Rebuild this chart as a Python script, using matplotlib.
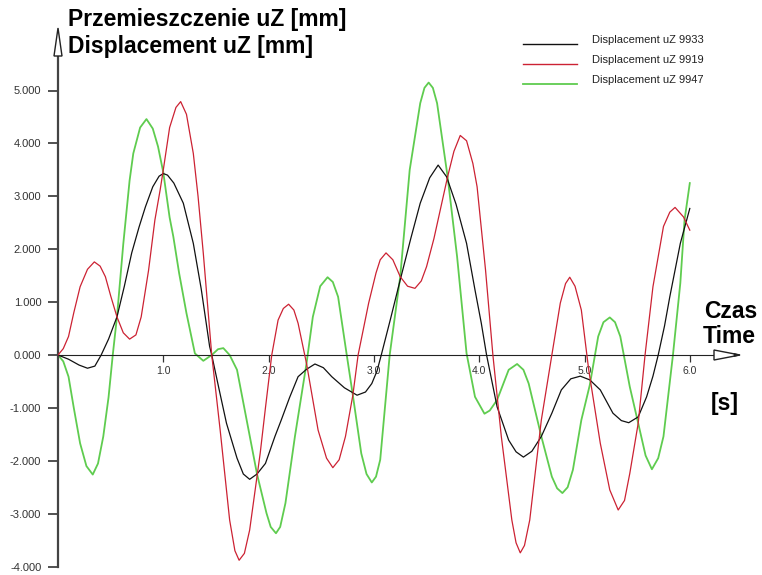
import matplotlib.pyplot as plt
from matplotlib.patches import Polygon
import numpy as np

# values (time [s], displacement [mm])
t_9933 = [0.0, 0.10, 0.20, 0.28, 0.35, 0.41, 0.48, 0.56, 0.63, 0.70, 0.77, 0.83, 0.90, 0.96, 1.00, 1.04,
          1.10, 1.19, 1.285, 1.36, 1.44, 1.46, 1.53, 1.60, 1.70, 1.76, 1.82, 1.89, 1.97, 2.06, 2.12, 2.20,
          2.28, 2.36, 2.44, 2.52, 2.60, 2.72, 2.84, 2.92, 2.98, 3.03, 3.07, 3.16, 3.25, 3.35, 3.44, 3.53,
          3.61, 3.69, 3.78, 3.88, 3.96, 4.02, 4.07, 4.17, 4.28, 4.35, 4.42, 4.50, 4.59, 4.69, 4.78, 4.87,
          4.96, 5.05, 5.15, 5.27, 5.35, 5.42, 5.51, 5.59, 5.65, 5.70, 5.76, 5.81, 5.91, 6.00]
v_9933 = [0.0, -0.08, -0.19, -0.25, -0.21, 0.0, 0.30, 0.72, 1.30, 1.93, 2.42, 2.80, 3.18, 3.38, 3.43, 3.40,
          3.25, 2.87, 2.11, 1.25, 0.16, 0.0, -0.65, -1.29, -1.95, -2.25, -2.35, -2.25, -2.05, -1.54, -1.23, -0.80,
          -0.41, -0.27, -0.17, -0.24, -0.41, -0.62, -0.76, -0.70, -0.54, -0.30, 0.0, 0.70, 1.42, 2.20, 2.87, 3.35,
          3.59, 3.37, 2.85, 2.11, 1.23, 0.60, 0.0, -0.98, -1.61, -1.83, -1.93, -1.82, -1.54, -1.10, -0.66, -0.45,
          -0.40, -0.47, -0.66, -1.10, -1.24, -1.28, -1.17, -0.79, -0.40, 0.0, 0.55, 1.10, 2.11, 2.77]

t_9919 = [0.0, 0.05, 0.10, 0.15, 0.21, 0.28, 0.345, 0.40, 0.45, 0.50, 0.56, 0.62, 0.68, 0.74, 0.79, 0.86,
          0.92, 0.97, 1.00, 1.06, 1.12, 1.165, 1.22, 1.285, 1.33, 1.38, 1.46, 1.54, 1.63, 1.68, 1.72, 1.77,
          1.82, 1.92, 1.97, 2.03, 2.09, 2.14, 2.19, 2.24, 2.28, 2.36, 2.47, 2.55, 2.61, 2.67, 2.73, 2.80,
          2.85, 2.95, 3.02, 3.06, 3.115, 3.18, 3.25, 3.32, 3.39, 3.45, 3.50, 3.57, 3.63, 3.70, 3.76, 3.82,
          3.88, 3.94, 3.98, 4.06, 4.13, 4.21, 4.31, 4.35, 4.39, 4.43, 4.48, 4.59, 4.69, 4.77, 4.82, 4.86,
          4.91, 4.97, 5.04, 5.15, 5.24, 5.32, 5.38, 5.43, 5.51, 5.575, 5.65, 5.75, 5.81, 5.86, 5.94, 6.00]
v_9919 = [0.0, 0.12, 0.35, 0.80, 1.29, 1.62, 1.76, 1.68, 1.48, 1.12, 0.72, 0.42, 0.30, 0.38, 0.72, 1.60,
          2.55, 3.12, 3.50, 4.30, 4.68, 4.79, 4.55, 3.81, 3.00, 1.92, 0.0, -1.42, -3.12, -3.70, -3.88, -3.75,
          -3.31, -1.86, -1.00, 0.0, 0.66, 0.88, 0.96, 0.85, 0.60, -0.16, -1.42, -1.95, -2.13, -1.98, -1.54, -0.76,
          0.0, 0.98, 1.55, 1.80, 1.93, 1.80, 1.48, 1.30, 1.26, 1.40, 1.67, 2.20, 2.74, 3.37, 3.85, 4.15,
          4.05, 3.62, 3.18, 1.61, 0.0, -1.54, -3.12, -3.55, -3.74, -3.60, -3.12, -1.23, 0.0, 0.98, 1.35, 1.47,
          1.30, 0.85, -0.28, -1.67, -2.55, -2.93, -2.75, -2.24, -1.29, 0.0, 1.29, 2.43, 2.70, 2.79, 2.61, 2.36]

t_9947 = [0.0, 0.05, 0.10, 0.15, 0.21, 0.27, 0.33, 0.38, 0.43, 0.48, 0.52, 0.56, 0.62, 0.68, 0.715, 0.78,
          0.84, 0.90, 0.95, 1.00, 1.06, 1.095, 1.15, 1.22, 1.30, 1.38, 1.46, 1.52, 1.57, 1.63, 1.70, 1.81,
          1.89, 1.98, 2.02, 2.07, 2.11, 2.16, 2.25, 2.36, 2.42, 2.49, 2.56, 2.61, 2.66, 2.74, 2.80, 2.88,
          2.93, 2.98, 3.02, 3.06, 3.15, 3.25, 3.34, 3.44, 3.48, 3.52, 3.56, 3.60, 3.70, 3.79, 3.88, 3.96,
          4.05, 4.10, 4.17, 4.28, 4.36, 4.42, 4.47, 4.59, 4.69, 4.74, 4.79, 4.84, 4.89, 4.97, 5.05, 5.13,
          5.18, 5.24, 5.29, 5.34, 5.43, 5.51, 5.58, 5.64, 5.70, 5.75, 5.84, 5.91, 5.95, 6.00]
v_9947 = [0.0, -0.12, -0.41, -1.00, -1.67, -2.10, -2.26, -2.05, -1.54, -0.80, 0.0, 0.72, 2.10, 3.30, 3.81, 4.30,
          4.46, 4.28, 3.94, 3.45, 2.60, 2.24, 1.55, 0.79, 0.03, -0.11, 0.0, 0.11, 0.13, 0.0, -0.28, -1.42,
          -2.25, -2.99, -3.25, -3.37, -3.25, -2.80, -1.54, -0.16, 0.72, 1.30, 1.47, 1.38, 1.10, 0.03, -0.76, -1.86,
          -2.25, -2.41, -2.30, -1.98, 0.0, 1.48, 3.50, 4.76, 5.05, 5.15, 5.05, 4.76, 3.37, 1.86, 0.03, -0.79,
          -1.11, -1.05, -0.85, -0.28, -0.17, -0.28, -0.54, -1.54, -2.30, -2.52, -2.61, -2.50, -2.17, -1.23, -0.57, 0.35,
          0.62, 0.71, 0.62, 0.35, -0.60, -1.29, -1.90, -2.16, -1.95, -1.54, 0.0, 1.36, 2.55, 3.25]

labels = ['Displacement uZ 9933', 'Displacement uZ 9919', 'Displacement uZ 9947']
colors = ['#111111', '#cc2233', '#5fcc4f']

W, H = 762, 575
px_per_s = 105.3
px_per_mm = 52.9
x0, y0 = 58, 355          # pixel position of the origin
x_right, y_top, y_bot = 740, 28, 570

fig = plt.figure(figsize=(W / 100, H / 100), dpi=100)
ax = fig.add_axes([x0 / W, (H - y_bot) / H, (x_right - x0) / W, (y_bot - y_top) / H])
ax.set_xlim(0, (x_right - x0) / px_per_s)
ax.set_ylim((y0 - y_bot) / px_per_mm, (y0 - y_top) / px_per_mm)

ax.plot(t_9933, v_9933, color=colors[0], lw=0.9, zorder=3)
ax.plot(t_9919, v_9919, color=colors[1], lw=0.9, zorder=3)
ax.plot(t_9947, v_9947, color=colors[2], lw=1.3, zorder=2)

# axes drawn like the original: lines through the origin with hollow arrows
y_arrow_base = (y0 - 56) / px_per_mm
x_arrow_base = (714 - x0) / px_per_s
for s in ['top', 'right']:
    ax.spines[s].set_visible(False)
ax.spines['bottom'].set_position(('data', 0))
ax.spines['bottom'].set_bounds(0, x_arrow_base)
ax.spines['left'].set_bounds((y0 - 567) / px_per_mm, y_arrow_base)
ax.spines['bottom'].set_color('#222222')
ax.spines['left'].set_color('#444444')
ax.spines['left'].set_linewidth(1.6)

hw = 4 / px_per_s
ax.add_patch(Polygon([(-hw, y_arrow_base), (hw, y_arrow_base), (0, (y0 - y_top) / px_per_mm)],
                     closed=True, fc='white', ec='#222222', lw=1.0, clip_on=False, zorder=5))
hh = 5 / px_per_mm
x_tip = (x_right - x0) / px_per_s
ax.add_patch(Polygon([(x_arrow_base, hh), (x_arrow_base, -hh), (x_tip, 0)],
                     closed=True, fc='white', ec='#222222', lw=1.0, clip_on=False, zorder=5))
ax.add_patch(Polygon([(x_tip - 6 / px_per_s, 1.5 / px_per_mm), (x_tip - 6 / px_per_s, -1.5 / px_per_mm), (x_tip, 0)],
                     closed=True, fc='#222222', ec='#222222', lw=0.5, clip_on=False, zorder=6))

yticks = [-4, -3, -2, -1, 0, 1, 2, 3, 4, 5]
ax.set_yticks(yticks)
ax.set_yticklabels(['%.3f' % v for v in yticks])
xticks = [1, 2, 3, 4, 5, 6]
ax.set_xticks(xticks)
ax.set_xticklabels(['%.1f' % v for v in xticks])
ax.tick_params(axis='y', direction='out', length=7, width=1.2, pad=5,
               labelsize=8, labelcolor='#333333', color='#333333')
ax.tick_params(axis='x', direction='out', length=5, width=0.9, pad=3,
               labelsize=7.5, labelcolor='#333333', color='#333333')
for lab in ax.get_yticklabels() + ax.get_xticklabels():
    lab.set_family('Liberation Sans')

bold = dict(family='Liberation Sans', fontweight='bold', fontsize=16.5, color='black')
fig.text(68 / W, 1 - 26 / H, 'Przemieszczenie uZ [mm]', ha='left', va='baseline', **bold)
fig.text(68 / W, 1 - 53 / H, 'Displacement uZ [mm]', ha='left', va='baseline', **bold)
fig.text(704 / W, 1 - 318 / H, 'Czas', ha='left', va='baseline', **bold)
fig.text(703 / W, 1 - 343 / H, 'Time', ha='left', va='baseline', **bold)
fig.text(711 / W, 1 - 410 / H, '[s]', ha='left', va='baseline', **bold)

# legend, drawn by hand to sit where the original one is
leg_rows = [44, 64, 84]
for lab, col, yr in zip(labels, colors, leg_rows):
    fig.add_artist(plt.Line2D([523 / W, 577 / W], [1 - yr / H, 1 - yr / H],
                              color=col, lw=1.0 if col != colors[2] else 1.3))
    fig.text(592 / W, 1 - (yr - 4) / H, lab, ha='left', va='center',
             family='Liberation Sans', fontsize=8, color='#222222')

fig.savefig('out.png', dpi=100)
